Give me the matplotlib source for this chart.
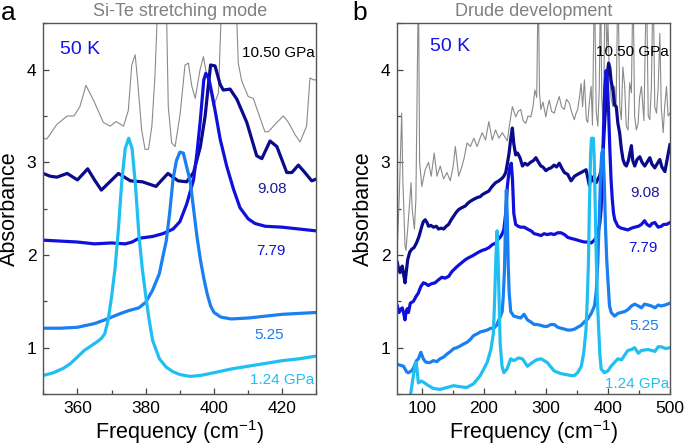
import matplotlib
matplotlib.use('Agg')
import matplotlib.pyplot as plt
from matplotlib.ticker import MultipleLocator

plt.rcParams['font.family'] = ['Liberation Sans', 'DejaVu Sans']
plt.rcParams['mathtext.fontset'] = 'custom'
plt.rcParams['mathtext.rm'] = 'Liberation Sans'
plt.rcParams['mathtext.it'] = 'Liberation Sans:italic'

# ---- panel a: Si-Te stretching mode (frequency, absorbance) ----
a124_f = [350, 353, 356, 358, 360, 362, 364, 366, 367, 368, 369, 370, 371, 372, 373, 374, 375,
          376, 377, 378, 379, 380, 381, 382, 384, 386, 388, 390, 393, 396, 400, 405, 410, 415,
          420, 425, 430]
a124_a = [0.70, 0.73, 0.78, 0.83, 0.90, 0.97, 1.02, 1.07, 1.10, 1.15, 1.30, 1.55, 1.85, 2.28,
          2.80, 3.15, 3.26, 3.15, 2.75, 2.22, 1.85, 1.56, 1.30, 1.08, 0.88, 0.79, 0.74, 0.71,
          0.69, 0.70, 0.73, 0.77, 0.80, 0.83, 0.86, 0.88, 0.91]

a525_f = [350, 355, 360, 365, 368, 372, 375, 378, 380, 382, 384, 385, 386, 387, 388, 389, 390,
          391, 392, 393, 394, 395, 396, 397, 398, 399, 400, 402, 405, 410, 415, 420, 425, 430]
a525_a = [1.21, 1.21, 1.22, 1.26, 1.30, 1.36, 1.40, 1.43, 1.49, 1.62, 1.80, 1.98, 2.15, 2.45,
          2.82, 3.02, 3.11, 3.10, 2.95, 2.80, 2.50, 2.20, 1.95, 1.75, 1.58, 1.45, 1.38, 1.33,
          1.31, 1.32, 1.34, 1.36, 1.37, 1.38]

a779_f = [350, 355, 360, 365, 370, 374, 376, 378, 382, 385, 388, 390, 392, 394, 395, 396, 397,
          397.6, 398.5, 399.5, 400.5, 401.8, 403.7, 405.7, 407.6, 410, 412, 415, 420, 425, 430]
a779_a = [2.16, 2.15, 2.14, 2.12, 2.13, 2.12, 2.14, 2.18, 2.20, 2.23, 2.28, 2.36, 2.55, 2.81,
          3.10, 3.46, 3.89, 3.96, 3.90, 3.72, 3.52, 3.25, 2.96, 2.71, 2.51, 2.39, 2.34, 2.31,
          2.30, 2.28, 2.26]

a908_f = [350, 352, 354, 357, 360, 363, 365, 367, 369.5, 372, 375.5, 379, 383, 386.5, 389.5,
          392, 394, 396, 397.4, 398.3, 399, 400.3, 401.8, 402.7, 404.7, 406.7, 409.6, 412.5,
          414, 416.4, 418.4, 421.3, 422.8, 424.7, 426.6, 428.6, 430]
a908_a = [2.88, 2.85, 2.84, 2.88, 2.81, 2.93, 2.81, 2.70, 2.79, 2.88, 2.80, 2.79, 2.74, 2.88,
          2.80, 2.79, 2.89, 3.17, 3.50, 3.82, 4.05, 4.04, 3.84, 3.78, 3.79, 3.68, 3.43, 3.07,
          3.04, 3.23, 3.17, 2.89, 2.89, 2.97, 2.89, 2.80, 2.82]

a1050_f = [350, 351, 354, 357, 359, 360.7, 362.5, 364.7, 367.6, 369.6, 371.3, 373.5, 374.9,
           375.9, 376.9, 377.6, 378.8, 379.8, 380.8, 381.8, 382.7, 383.4, 384.2, 385.5, 386.1,
           386.6, 387.6, 388.6, 390.1, 391.5, 392.5, 393.5, 394.5, 395.9, 396.9, 397.9, 399.8,
           401.3, 402.1, 403.2, 405.8, 406.6, 407.1, 408.1, 410, 411.5, 413, 414.9, 415.9,
           418.4, 420.3, 421.8, 423.7, 425.2, 427.1, 428.1, 429.1, 430]
a1050_a = [3.26, 3.25, 3.41, 3.50, 3.50, 3.60, 3.83, 3.67, 3.43, 3.39, 3.44, 3.39, 3.56, 4.05,
           4.16, 3.89, 3.35, 3.14, 3.14, 3.39, 3.93, 4.60, 5.00, 5.00, 4.60, 3.60, 3.21, 3.17,
           3.53, 4.05, 4.07, 3.82, 3.69, 4.00, 4.14, 3.93, 3.60, 3.75, 4.60, 5.00, 5.00, 4.60,
           4.07, 3.88, 3.71, 3.69, 3.53, 3.33, 3.33, 3.43, 3.50, 3.43, 3.30, 3.22, 3.39, 3.91,
           3.89, 3.89]

# ---- panel b: Drude development ----
b124_f = [78, 82, 86, 89, 90.5, 92, 94, 99, 104, 108, 118, 129, 140, 151, 160, 172, 183, 194,
          205, 211, 215, 217, 219, 221, 222.5, 224, 226, 229, 232, 237, 243, 248, 256, 262,
          270, 278, 285, 292, 302, 313, 324, 340, 346, 351, 357, 361, 364.6, 366.5, 368.4,
          370, 372, 373.5, 376.5, 378, 379.5, 381, 383, 385, 387, 389, 394, 400, 405, 416,
          422, 432, 438, 443, 449, 454, 465, 476, 481, 486, 493, 500]
b124_a = [0.40, 0.52, 0.70, 0.82, 0.84, 0.75, 0.62, 0.64, 0.62, 0.60, 0.56, 0.55, 0.57, 0.59,
          0.58, 0.57, 0.61, 0.70, 0.84, 0.98, 1.15, 1.50, 1.95, 2.26, 2.00, 1.60, 1.05, 0.80,
          0.73, 0.77, 0.88, 0.86, 0.89, 0.88, 0.80, 0.84, 0.87, 0.88, 0.84, 0.75, 0.72, 0.70,
          0.70, 0.73, 0.80, 0.95, 1.20, 1.50, 1.90, 2.50, 3.10, 3.26, 3.26, 3.00, 2.50, 2.00,
          1.50, 1.20, 0.92, 0.77, 0.73, 0.75, 0.80, 0.88, 0.87, 0.97, 0.98, 1.00, 0.94, 0.97,
          0.98, 0.96, 1.01, 1.01, 0.99, 1.00]

b525_f = [60, 65, 70, 75, 78, 83, 86, 91, 94, 98, 102, 105, 108, 113, 118, 124, 129, 135, 140,
          146, 151, 156, 162, 167, 173, 178, 183, 189, 194, 200, 205, 211, 216, 220, 224, 227,
          229.3, 231, 233, 234.5, 236, 237.5, 239, 240.5, 243, 248, 254, 259, 264.6, 270, 275,
          281, 286, 292, 297, 302, 308, 313, 319, 324, 330, 335, 340, 346, 351, 356.5, 362,
          367.4, 373, 378.2, 381, 383.6, 386, 388, 390, 392, 394, 396, 398, 399.8, 402.5,
          405.2, 410.6, 416, 421.5, 427, 432, 438, 443, 449, 454, 459, 465, 470, 476, 481,
          486, 492, 500]
b525_a = [0.82, 0.81, 0.80, 0.74, 0.73, 0.75, 0.78, 0.86, 0.88, 0.95, 0.88, 0.85, 0.84, 0.84,
          0.86, 0.85, 0.88, 0.90, 0.93, 0.96, 0.99, 1.00, 1.02, 1.04, 1.06, 1.09, 1.13, 1.15,
          1.17, 1.18, 1.19, 1.21, 1.21, 1.24, 1.30, 1.35, 1.39, 1.55, 1.85, 2.30, 2.70, 2.40,
          1.90, 1.60, 1.39, 1.34, 1.33, 1.32, 1.36, 1.30, 1.28, 1.25, 1.25, 1.24, 1.23, 1.23,
          1.25, 1.25, 1.22, 1.21, 1.20, 1.19, 1.19, 1.20, 1.22, 1.24, 1.28, 1.31, 1.37, 1.45,
          1.60, 1.92, 2.40, 2.85, 3.10, 3.14, 2.80, 2.30, 1.95, 1.74, 1.45, 1.38, 1.34, 1.37,
          1.38, 1.39, 1.41, 1.45, 1.47, 1.45, 1.43, 1.47, 1.46, 1.45, 1.43, 1.46, 1.45, 1.46,
          1.48]

b779_f = [60, 63, 65, 68, 70, 72.4, 74, 76, 78, 81, 86, 90, 94, 98, 102, 106, 110, 115, 121,
          126, 132, 137, 143, 148, 154, 159, 164.5, 170, 175, 181, 186, 191, 197, 202, 208,
          213, 219, 223, 227, 230, 232, 235, 237.6, 240, 242, 244, 246, 248, 251, 255, 259,
          265, 270, 276, 281, 287, 292, 297, 302, 308, 313, 319, 324, 330, 335, 340, 346, 351,
          356, 362, 367, 373, 378, 383.6, 387, 389, 391, 393, 395, 397, 399, 401, 403, 405,
          407, 409, 411, 416, 421, 427, 432, 438, 443, 449, 454, 459, 463, 467.5, 471, 475.6,
          481, 486, 490, 494.5, 500]
b779_a = [1.45, 1.38, 1.41, 1.43, 1.38, 1.30, 1.38, 1.42, 1.38, 1.48, 1.50, 1.55, 1.59, 1.66,
          1.70, 1.69, 1.67, 1.69, 1.70, 1.73, 1.76, 1.75, 1.77, 1.82, 1.86, 1.89, 1.92, 1.95,
          1.97, 1.99, 2.01, 2.03, 2.05, 2.06, 2.08, 2.11, 2.13, 2.17, 2.20, 2.24, 2.28, 2.45,
          2.74, 2.88, 2.96, 2.99, 2.80, 2.45, 2.33, 2.31, 2.30, 2.30, 2.28, 2.26, 2.23, 2.22,
          2.21, 2.23, 2.22, 2.23, 2.22, 2.24, 2.24, 2.22, 2.19, 2.18, 2.17, 2.16, 2.15, 2.14,
          2.14, 2.13, 2.16, 2.22, 2.35, 2.50, 2.90, 3.40, 3.80, 3.99, 3.85, 3.55, 3.15, 2.81,
          2.60, 2.45, 2.38, 2.31, 2.29, 2.28, 2.27, 2.29, 2.30, 2.31, 2.33, 2.37, 2.33, 2.31,
          2.34, 2.35, 2.30, 2.31, 2.33, 2.33, 2.35]

b908_f = [60, 62, 64.4, 66, 68, 70, 72.5, 74.5, 76.8, 80, 83, 87, 91, 95, 99.6, 102, 105, 108,
          110.4, 114, 118.5, 123, 126.6, 131, 134.7, 139, 142.8, 147, 151, 155, 159, 164, 170,
          174, 178, 183, 189, 194, 197, 202, 207.7, 213, 218.6, 224, 229.5, 232, 235, 238,
          240.4, 243, 245.7, 248, 251, 254, 258, 262, 266, 270, 275, 280, 283.6, 288, 291.7,
          295, 299.8, 304, 308, 313, 317, 321.5, 326, 329.6, 335, 340.4, 346, 351, 356.6, 362,
          364.7, 370, 372.8, 376, 380.9, 383.6, 386.4, 390, 391.7, 394, 397, 399, 401, 403,
          405, 408, 410.6, 413.4, 416, 418.8, 421.5, 424.3, 427, 429.7, 433, 437.8, 440,
          443.2, 447, 451.3, 455, 459.4, 463, 467.5, 471, 475.6, 479, 483.7, 487, 491.9, 496,
          500]
b908_a = [1.92, 1.85, 1.81, 1.85, 1.88, 1.80, 1.70, 1.82, 1.95, 2.03, 2.06, 2.08, 2.13, 2.20,
          2.31, 2.36, 2.38, 2.35, 2.31, 2.32, 2.30, 2.31, 2.28, 2.29, 2.28, 2.31, 2.33, 2.38,
          2.42, 2.46, 2.49, 2.51, 2.53, 2.56, 2.58, 2.60, 2.62, 2.63, 2.65, 2.67, 2.69, 2.74,
          2.78, 2.80, 2.83, 2.85, 2.89, 3.00, 3.10, 3.25, 3.37, 3.20, 3.08, 3.10, 3.05, 2.96,
          2.99, 2.97, 3.00, 3.02, 3.05, 3.00, 2.96, 2.95, 2.91, 2.93, 2.94, 2.97, 2.95, 2.99,
          2.93, 2.89, 2.87, 2.80, 2.85, 2.87, 2.89, 2.91, 2.92, 2.75, 2.85, 2.80, 2.78, 2.82,
          2.85, 2.95, 3.06, 3.35, 3.70, 3.95, 4.07, 4.02, 3.88, 3.78, 3.62, 3.60, 3.42, 3.32,
          3.15, 3.03, 2.98, 2.96, 3.02, 3.18, 3.02, 2.96, 3.03, 3.06, 3.00, 2.96, 3.00, 3.05,
          2.98, 2.94, 2.98, 3.03, 2.95, 2.90, 3.05, 3.19]

b1050_f = [60.5, 63, 67.1, 69, 72.5, 74, 77, 82.2, 84, 87.6, 90, 94.1, 96, 99.6, 105, 110.4,
           114.7, 119.6, 124, 129.3, 134.7, 140.1, 145.5, 150, 153.7, 159, 164.5, 168, 172.6,
           178, 183.4, 188.9, 193, 197, 202.4, 207.7, 213.2, 218.6, 224, 229.5, 233, 237.6,
           241, 245.7, 251.2, 255, 259.3, 263, 267.4, 271, 275.5, 279, 282, 285, 287.4, 289.5,
           291.7, 295, 299.8, 302, 305.2, 309, 313.3, 317, 321.4, 325, 329.5, 333, 337.6, 341,
           345.7, 348, 351.1, 354, 356.6, 359, 362, 365, 367.4, 370, 372.8, 375, 378.2, 381,
           383.6, 386, 388, 390, 391.7, 393.5, 395.5, 398, 400, 402, 405, 408, 410.7, 413,
           416.1, 419, 421.5, 424, 427, 429.5, 432.4, 435, 437.8, 440.4, 443, 445.8, 448.6,
           451, 454, 458, 462.1, 465, 467.5, 470, 472.9, 475.5, 478.3, 481, 483.7, 486, 489.1,
           491.5, 494.5, 497, 500]
b1050_a = [2.17, 2.60, 3.53, 2.80, 2.10, 2.05, 2.30, 2.78, 2.50, 2.28, 2.60, 5.00, 3.00, 2.74,
           2.92, 3.00, 2.85, 3.10, 2.85, 2.96, 2.82, 2.89, 2.80, 2.95, 3.17, 2.85, 2.96, 3.05,
           3.21, 3.17, 3.26, 3.17, 3.25, 3.32, 3.24, 3.44, 3.24, 3.35, 3.26, 3.32, 3.28, 3.23,
           3.40, 3.60, 3.49, 3.55, 3.57, 3.45, 3.42, 3.50, 3.49, 3.60, 3.78, 3.70, 5.00, 3.75,
           3.57, 3.65, 3.49, 3.58, 3.67, 3.55, 3.53, 3.62, 3.71, 3.60, 3.57, 3.68, 3.64, 3.55,
           3.46, 3.52, 3.57, 3.70, 3.85, 3.60, 3.89, 3.46, 3.43, 3.65, 3.82, 3.40, 5.00, 3.55,
           3.39, 3.80, 5.00, 3.70, 3.46, 3.90, 5.00, 4.20, 4.50, 4.00, 3.70, 3.60, 3.82, 3.55,
           5.00, 3.60, 3.46, 4.03, 3.82, 3.39, 3.35, 3.86, 3.75, 5.00, 3.50, 3.35, 3.42, 3.70,
           3.82, 3.45, 5.00, 3.50, 3.46, 3.80, 5.00, 3.60, 3.53, 3.80, 4.39, 3.60, 3.32, 3.60,
           3.82, 3.50, 3.53]

c124 = '#1fbff2'
c525 = '#1a7ff2'
c779 = '#1010dc'
c908 = '#0a0a8c'
cgray = '#8a8a8a'

fig = plt.figure(figsize=(6.85, 4.48), dpi=100)
ax_a = fig.add_axes([0.0632, 0.1205, 0.3988, 0.8275])
ax_b = fig.add_axes([0.580, 0.1205, 0.398, 0.8275])


def style_axes(ax, xmin, xmax, xmaj, xmin_step, title):
    ax.set_xlim(xmin, xmax)
    ax.set_ylim(0.5, 4.5)
    ax.xaxis.set_major_locator(MultipleLocator(xmaj))
    ax.xaxis.set_minor_locator(MultipleLocator(xmin_step))
    ax.yaxis.set_major_locator(MultipleLocator(1))
    ax.yaxis.set_minor_locator(MultipleLocator(0.5))
    ax.tick_params(which='both', direction='in', top=False, right=False,
                   labelsize=12.5, pad=5, color='#444444')
    ax.tick_params(which='major', length=4, width=0.9)
    ax.tick_params(which='minor', length=3, width=0.9)
    for sp in ax.spines.values():
        sp.set_color('#555555')
        sp.set_linewidth(1.0)
    ax.set_xlabel(r'Frequency (cm$^{-1}$)', fontsize=15.5)
    ax.set_ylabel('Absorbance', fontsize=15.5)
    ax.xaxis.set_label_coords(0.5, -0.065)
    ax.set_title(title, fontsize=13, color='#808080', pad=5)


lw = 2.3
ax_a.plot(a1050_f, a1050_a, color=cgray, lw=0.8)
ax_a.plot(a908_f, a908_a, color=c908, lw=lw)
ax_a.plot(a779_f, a779_a, color=c779, lw=lw)
ax_a.plot(a525_f, a525_a, color=c525, lw=lw)
ax_a.plot(a124_f, a124_a, color=c124, lw=lw)
style_axes(ax_a, 350, 430, 20, 10, 'Si-Te stretching mode')
ax_a.yaxis.set_label_coords(-0.085, 0.5)

ax_b.plot(b1050_f, b1050_a, color=cgray, lw=0.8)
ax_b.plot(b908_f, b908_a, color=c908, lw=lw)
ax_b.plot(b779_f, b779_a, color=c779, lw=lw)
ax_b.plot(b525_f, b525_a, color=c525, lw=lw)
ax_b.plot(b124_f, b124_a, color=c124, lw=lw)
style_axes(ax_b, 60, 500, 100, 50, 'Drude development')
ax_b.yaxis.set_label_coords(-0.085, 0.5)

# annotations, panel a
ax_a.text(355, 4.22, '50 K', color='#1414e6', fontsize=14, va='center')
ax_a.text(429.6, 4.18, '10.50 GPa', color='black', fontsize=11, va='center', ha='right')
ax_a.text(417, 2.71, '9.08', color='#1a1a9a', fontsize=11, va='center', ha='center')
ax_a.text(416.7, 2.04, '7.79', color=c779, fontsize=11, va='center', ha='center')
ax_a.text(416.1, 1.14, '5.25', color=c525, fontsize=11, va='center', ha='center')
ax_a.text(429.3, 0.65, '1.24 GPa', color=c124, fontsize=11, va='center', ha='right')

# annotations, panel b
ax_b.text(113, 4.25, '50 K', color='#1414e6', fontsize=14, va='center')
ax_b.text(498, 4.19, '10.50 GPa', color='black', fontsize=11, va='center', ha='right')
ax_b.text(460.5, 2.67, '9.08', color='#1a1a9a', fontsize=11, va='center', ha='center')
ax_b.text(456.7, 2.08, '7.79', color=c779, fontsize=11, va='center', ha='center')
ax_b.text(458, 1.23, '5.25', color=c525, fontsize=11, va='center', ha='center')
ax_b.text(499, 0.61, '1.24 GPa', color=c124, fontsize=11, va='center', ha='right')

fig.text(0.002, 0.998, 'a', fontsize=19, va='top', ha='left')
fig.text(0.514, 0.998, 'b', fontsize=19, va='top', ha='left')

fig.savefig('out.png', dpi=100)
